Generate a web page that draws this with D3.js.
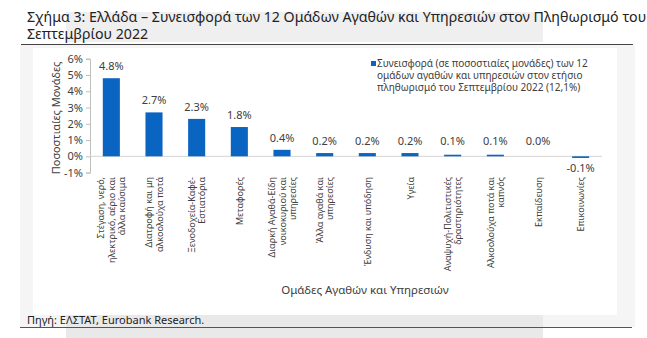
<!DOCTYPE html>
<html>
<head>
<meta charset="utf-8">
<script src="https://cdn.jsdelivr.net/npm/d3@7"></script>
<style>
  body { margin: 0; background: #fff; }
  svg { display: block; font-family: "Noto Sans", "Open Sans", sans-serif; }
</style>
</head>
<body>
<svg id="chart" width="647" height="338"></svg>
<script>
// DATA
const categories = [
  ["Στέγαση, νερό,", "ηλεκτρικό, αέριο και", "άλλα καύσιμα"],
  ["Διατροφή και μη", "αλκοολούχα ποτά"],
  ["Ξενοδοχεία-Καφέ-", "Εστιατόρια"],
  ["Μεταφορές"],
  ["Διαρκή Αγαθά-Είδη", "νοικοκυριού και", "υπηρεσίες"],
  ["Άλλα αγαθά και", "υπηρεσίες"],
  ["Ένδυση και υπόδηση"],
  ["Υγεία"],
  ["Αναψυχή-Πολιτιστικές", "δραστηριότητες"],
  ["Αλκοολούχα ποτά και", "καπνός"],
  ["Εκπαίδευση"],
  ["Επικοινωνίες"]
];
const values = [4.8, 2.7, 2.3, 1.8, 0.4, 0.2, 0.2, 0.2, 0.1, 0.1, 0.0, -0.1];
const yTicks = [-1, 0, 1, 2, 3, 4, 5, 6];
const legendLines = [
  "Συνεισφορά (σε ποσοστιαίες μονάδες) των 12",
  "ομάδων αγαθών και υπηρεσιών στον ετήσιο",
  "πληθωρισμό του Σεπτεμβρίου 2022 (12,1%)"
];
const titleLines = [
  "Σχήμα 3: Ελλάδα – Συνεισφορά των 12 Ομάδων Αγαθών και Υπηρεσιών στον Πληθωρισμό του",
  "Σεπτεμβρίου 2022"
];

const barColor = "#0a64c2";
const textColor = "#404040";

const svg = d3.select("#chart");

// Background panels
svg.append("rect").attr("x", 66).attr("y", 12).attr("width", 477).attr("height", 30).attr("fill", "#efefef");
svg.append("rect").attr("x", 20).attr("y", 45).attr("width", 615).attr("height", 282).attr("fill", "#f5f5f5");
svg.append("rect").attr("x", 66).attr("y", 315).attr("width", 477).attr("height", 23).attr("fill", "#e9e9e9");
svg.append("rect").attr("x", 33).attr("y", 48).attr("width", 584).attr("height", 267).attr("fill", "#fff");

// Title
svg.append("text")
  .attr("fill", "#222")
  .style("font-size", "14.2px")
  .selectAll("tspan")
  .data(titleLines)
  .join("tspan")
  .attr("x", 27)
  .attr("y", (d, i) => 22 + i * 17)
  .text(d => d);

svg.append("line")
  .attr("x1", 21).attr("x2", 633)
  .attr("y1", 44.5).attr("y2", 44.5)
  .attr("stroke", "#444").attr("stroke-width", 1);

// Source
svg.append("text")
  .attr("x", 27)
  .attr("y", 324)
  .attr("fill", "#222")
  .style("font-size", "11px")
  .text("Πηγή: ΕΛΣΤΑΤ, Eurobank Research.");

svg.append("line")
  .attr("x1", 20).attr("x2", 632)
  .attr("y1", 327.5).attr("y2", 327.5)
  .attr("stroke", "#555").attr("stroke-width", 1);

// SCALES
const x = d3.scaleBand()
  .domain(d3.range(categories.length))
  .range([90, 602])
  .paddingInner(0.6)
  .paddingOuter(0.3);

const y = d3.scaleLinear()
  .domain([-1, 6])
  .range([172.6, 58.7]);

// Y axis
const yAxis = svg.append("g")
  .attr("transform", "translate(90,0)")
  .call(d3.axisLeft(y).tickValues(yTicks).tickFormat(d => d + "%").tickSize(4).tickPadding(3));
yAxis.select(".domain").attr("stroke", "#bfbfbf");
yAxis.selectAll(".tick line").attr("stroke", "#bfbfbf");
yAxis.selectAll(".tick text")
  .attr("fill", textColor)
  .style("font-size", "11px")
  .style("font-family", "\"Noto Sans\", sans-serif");

// X axis line at zero
svg.append("line")
  .attr("x1", 90).attr("x2", 602)
  .attr("y1", y(0)).attr("y2", y(0))
  .attr("stroke", "#d4d4d4");

// BARS
svg.append("g")
  .selectAll("rect")
  .data(values)
  .join("rect")
  .attr("x", (d, i) => x(i))
  .attr("width", x.bandwidth())
  .attr("y", d => y(Math.max(0, d)))
  .attr("height", d => Math.abs(y(d) - y(0)))
  .attr("fill", barColor);

// Value labels
svg.append("g")
  .selectAll("text")
  .data(values)
  .join("text")
  .attr("x", (d, i) => x(i) + x.bandwidth() / 2)
  .attr("y", d => (d < 0 ? y(d) + 14 : Math.min(y(d), y(0) - 3) - 8))
  .attr("text-anchor", "middle")
  .attr("fill", textColor)
  .style("font-size", "11px")
  .text(d => d.toFixed(1) + "%");

// Category labels, rotated
const catLabels = svg.append("g")
  .selectAll("text")
  .data(categories)
  .join("text")
  .attr("transform", (d, i) => `translate(${x(i) + x.bandwidth() / 2},177) rotate(-90)`)
  .attr("text-anchor", "end")
  .attr("fill", textColor)
  .style("font-size", "9px");

catLabels.selectAll("tspan")
  .data(d => d.map((line, j) => ({ line, j, n: d.length })))
  .join("tspan")
  .attr("x", 0)
  .attr("y", d => (d.j - (d.n - 1) / 2) * 10.5 + 3.5)
  .text(d => d.line);

// Axis titles
svg.append("text")
  .attr("transform", "translate(60,118) rotate(-90)")
  .attr("text-anchor", "middle")
  .attr("fill", textColor)
  .style("font-size", "11px")
  .text("Ποσοστιαίες Μονάδες");

svg.append("text")
  .attr("x", 365)
  .attr("y", 294)
  .attr("text-anchor", "middle")
  .attr("fill", textColor)
  .style("font-size", "11.5px")
  .text("Ομάδες Αγαθών και Υπηρεσιών");

// LEGEND
svg.append("rect")
  .attr("x", 371).attr("y", 61)
  .attr("width", 5).attr("height", 5)
  .attr("fill", barColor);

svg.append("text")
  .attr("fill", textColor)
  .style("font-size", "10px")
  .selectAll("tspan")
  .data(legendLines)
  .join("tspan")
  .attr("x", 377)
  .attr("y", (d, i) => 67 + i * 12)
  .text(d => d);
</script>
</body>
</html>
